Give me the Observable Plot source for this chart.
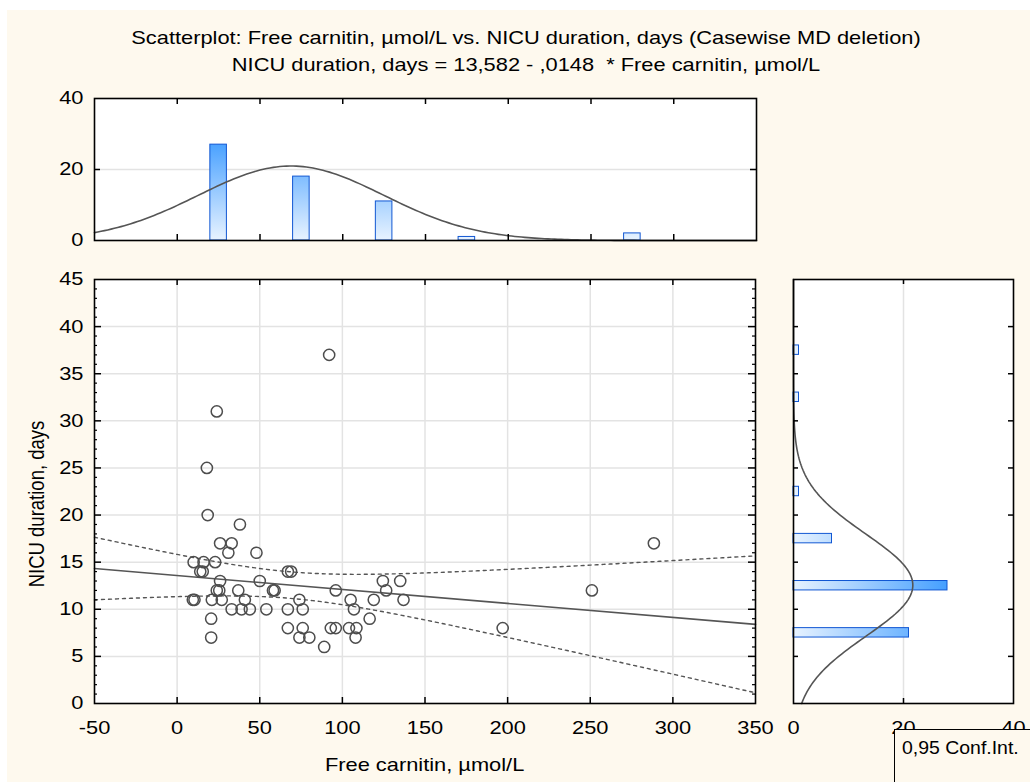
<!DOCTYPE html>
<html>
<head>
<meta charset="utf-8">
<script src="https://cdn.jsdelivr.net/npm/d3@7"></script>
<script src="https://cdn.jsdelivr.net/npm/@observablehq/plot@0.6"></script>
<style>
  html, body { margin: 0; padding: 0; background: #ffffff; }
  #root { position: absolute; left: 0; top: 0; width: 1030px; height: 782px; overflow: hidden;
          font-family: "Liberation Sans", Arial, sans-serif; color: #000; }
  #cream { position: absolute; left: 7px; top: 10px; right: 0; bottom: 0; background: #fef9ee; }
  .abs { position: absolute; }
  .title { position: absolute; left: 0; width: 1052px; text-align: center; font-size: 18.5px; white-space: pre;
           transform: scaleX(1.18); transform-origin: 526px 50%; }
  #legend { position: absolute; left: 894px; top: 729px; width: 200px; height: 100px;
            border: 1.5px solid #000; background: #fef9ee; font-size: 18px; box-sizing: border-box;
            padding: 8px 0 0 7px; white-space: pre; }
  #legend span { display: inline-block; transform: scaleX(1.08); transform-origin: 0 50%; }
</style>
</head>
<body>
<div id="root">
  <div id="cream"></div>
  <div class="title" style="top:27px">Scatterplot: Free carnitin, µmol/L vs. NICU duration, days (Casewise MD deletion)</div>
  <div class="title" style="top:54px">NICU duration, days = 13,582 - ,0148  * Free carnitin, µmol/L</div>
  <div id="topHist" class="abs" style="left:0;top:80px"></div>
  <div id="scatter" class="abs" style="left:0;top:260px"></div>
  <div id="rightHist" class="abs" style="left:770px;top:260px"></div>
  <div class="abs" style="left:94px;width:661px;top:754px;text-align:center;font-size:18.5px;transform:scaleX(1.18);transform-origin:330px 50%">Free carnitin, µmol/L</div>
  <div class="abs" style="left:37px;top:504px;width:0;height:0">
    <div style="position:absolute;transform:translate(-50%,-50%) rotate(-90deg) scaleY(1.18);white-space:nowrap;font-size:18.5px">NICU duration, days</div>
  </div>
  <div id="legend"><span>0,95 Conf.Int.</span></div>
</div>
<script>
// ---- data ----
const carnitin = [92, 24, 18, 18.5, 38, 26, 33, 31, 48, 10, 16, 23, 14, 15.5, 67, 69, 26, 50, 124.5, 135,
  24, 25.5, 37, 58, 59, 96, 126.5, 251, 9.5, 10.5, 21, 27, 41, 74, 105, 119, 137, 33, 39, 44,
  54, 67, 76, 107, 20.6, 116.5, 67, 76, 93, 96, 104, 108.5, 197, 20.6, 74, 80, 108, 89, 288.5];
const nicuDays = [37, 31, 25, 20, 19, 17, 17, 16, 16, 15, 15, 15, 14, 14, 14, 14, 13, 13, 13, 13,
  12, 12, 12, 12, 12, 12, 12, 12, 11, 11, 11, 11, 11, 11, 11, 11, 11, 10, 10, 10,
  10, 10, 10, 10, 9, 9, 8, 8, 8, 8, 8, 8, 8, 7, 7, 7, 7, 6, 17];

const carnitinBinCenters = [25, 75, 125, 175, 275];
const carnitinBinCounts = [27, 18, 11, 1, 2];
const carnitinBinWidth = 50;
const daysBinCenters = [7.5, 12.5, 17.5, 22.5, 32.5, 37.5];
const daysBinCounts = [21, 28, 7, 1, 1, 1];
const daysBinWidth = 5;

const regIntercept = 13.582;
const regSlope = -0.0148;
const confLevelT = 2.0025; // t(0.975, n-2) for the 0.95 band

const xTicks = [-50, 0, 50, 100, 150, 200, 250, 300, 350];
const xGrid = [0, 50, 100, 150, 200, 250, 300];
const yTicks = [0, 5, 10, 15, 20, 25, 30, 35, 40, 45];
const yGrid = [5, 10, 15, 20, 25, 30, 35, 40];
const yMinor = d3.range(1, 45).filter(v => v % 5 !== 0);
const topHistTicks = [0, 20, 40];
const rightHistTicks = [0, 20, 40];

// ---- derived tables ----
const points = carnitin.map((x, i) => ({x, y: nicuDays[i]}));
const n = points.length;
const xMean = d3.mean(carnitin), xSd = d3.deviation(carnitin);
const yMean = d3.mean(nicuDays), ySd = d3.deviation(nicuDays);
const sxx = d3.sum(carnitin, x => (x - xMean) ** 2);
const resid = Math.sqrt(d3.sum(points, p => (p.y - (regIntercept + regSlope * p.x)) ** 2) / (n - 2));
const xs = d3.range(-50, 350.01, 2);
const fitLine = [-50, 350].map(x => ({x, y: regIntercept + regSlope * x}));
const band = xs.map(x => {
  const h = confLevelT * resid * Math.sqrt(1 / n + (x - xMean) ** 2 / sxx);
  const yh = regIntercept + regSlope * x;
  return {x, lo: yh - h, hi: yh + h};
});
const normPdf = (v, m, s) => Math.exp(-0.5 * ((v - m) / s) ** 2) / (s * Math.sqrt(2 * Math.PI));
const topCurve = xs.map(x => ({x, y: n * carnitinBinWidth * normPdf(x, xMean, xSd)}));
const rightCurve = d3.range(0, 45.01, 0.25).map(y => ({y, x: n * daysBinWidth * normPdf(y, yMean, ySd)}));
const topBins = carnitinBinCenters.map((c, i) => ({c, n: carnitinBinCounts[i]}));
const rightBins = daysBinCenters.map((c, i) => ({c, n: daysBinCounts[i]}));

const font = {background: "transparent", fontFamily: "'Liberation Sans', Arial, sans-serif", fontSize: "18.5px", color: "#000", overflow: "visible"};
const fmt = d => String(d);
const curveStroke = "#555555";
const barStroke = "#1157d3";
const gridStroke = "#e3e3e3";
const textStretch = 1.18;

function addGradient(svg, id, x1, y1, x2, y2) {
  const ns = "http://www.w3.org/2000/svg";
  const defs = document.createElementNS(ns, "defs");
  const g = document.createElementNS(ns, "linearGradient");
  g.setAttribute("id", id);
  g.setAttribute("gradientUnits", "userSpaceOnUse");
  g.setAttribute("x1", x1); g.setAttribute("y1", y1);
  g.setAttribute("x2", x2); g.setAttribute("y2", y2);
  [["0", "#e8f3ff"], ["1", "#3f9cff"]].forEach(([o, c]) => {
    const s = document.createElementNS(ns, "stop");
    s.setAttribute("offset", o); s.setAttribute("stop-color", c);
    g.appendChild(s);
  });
  defs.appendChild(g);
  svg.insertBefore(defs, svg.firstChild);
}
// widen tick labels horizontally like the reference's text (only numeric x/y are moved into the transform)
const isNum = v => v != null && /^\s*-?[\d.]+(e-?\d+)?\s*$/.test(v);
function stretchText(svg) {
  svg.querySelectorAll("text").forEach(t => {
    const ax = t.getAttribute("x"), ay = t.getAttribute("y");
    let x = 0, y = 0;
    if (isNum(ax)) { x = +ax; t.removeAttribute("x"); }
    if (isNum(ay)) { y = +ay; t.removeAttribute("y"); }
    const tr = t.getAttribute("transform") || "";
    t.setAttribute("transform", `${tr} translate(${x},${y}) scale(${textStretch},1)`.trim());
  });
}

// ---- top histogram ----
{
  const W = 780, H = 180, mL = 94, mR = 24, mT = 18, mB = 20;
  const fh = H - mT - mB;
  const plot = Plot.plot({
    width: W, height: H, marginLeft: mL, marginRight: mR, marginTop: mT, marginBottom: mB,
    style: font,
    x: {domain: [-50, 350], axis: null},
    y: {domain: [0, 40], ticks: topHistTicks, tickSize: 0, tickPadding: 11, tickFormat: fmt, label: null},
    marks: [
      Plot.frame({fill: "white", stroke: "none"}),
      Plot.ruleY([20], {stroke: gridStroke, strokeWidth: 1.5}),
      Plot.rectY(topBins, {x1: d => d.c - 5, x2: d => d.c + 5, y: "n", fill: "url(#gradTop)", stroke: barStroke, strokeWidth: 1}),
      Plot.line(topCurve, {x: "x", y: "y", stroke: curveStroke, strokeWidth: 1.6}),
      Plot.tickX(xGrid, {x: d => d, insetBottom: fh - 6, stroke: "#000", strokeWidth: 1.5}),
      Plot.tickX(xGrid, {x: d => d, insetTop: fh - 6, stroke: "#000", strokeWidth: 1.5}),
      Plot.tickY([20], {y: d => d, insetRight: (W - mL - mR) - 6, stroke: "#000", strokeWidth: 1.5}),
      Plot.tickY([20], {y: d => d, insetLeft: (W - mL - mR) - 6, stroke: "#000", strokeWidth: 1.5}),
      Plot.frame({stroke: "#000", strokeWidth: 1.6})
    ]
  });
  const ys = d3.scaleLinear([0, 40], [H - mB, mT]);
  addGradient(plot, "gradTop", 0, ys(0), 0, ys(29));
  stretchText(plot);
  document.getElementById("topHist").appendChild(plot);
}

// ---- scatterplot ----
{
  const W = 780, H = 520, mL = 94, mR = 25, mT = 19, mB = 77;
  const fw = W - mL - mR, fh = H - mT - mB;
  const plot = Plot.plot({
    width: W, height: H, marginLeft: mL, marginRight: mR, marginTop: mT, marginBottom: mB,
    style: font,
    x: {domain: [-50, 350], ticks: xTicks, tickSize: 0, tickPadding: 17, tickFormat: fmt, label: null},
    y: {domain: [0, 45], ticks: yTicks, tickSize: 0, tickPadding: 11, tickFormat: fmt, label: null},
    marks: [
      Plot.frame({fill: "white", stroke: "none"}),
      Plot.ruleX(xGrid, {stroke: gridStroke, strokeWidth: 1.5}),
      Plot.ruleY(yGrid, {stroke: gridStroke, strokeWidth: 1.5}),
      Plot.line(band, {x: "x", y: "hi", stroke: curveStroke, strokeWidth: 1.4, strokeDasharray: "3,4"}),
      Plot.line(band, {x: "x", y: "lo", stroke: curveStroke, strokeWidth: 1.4, strokeDasharray: "3,4"}),
      Plot.line(fitLine, {x: "x", y: "y", stroke: curveStroke, strokeWidth: 1.6}),
      Plot.dot(points, {x: "x", y: "y", r: 5.6, stroke: "#4d4d4d", strokeWidth: 1.5, fill: "none"}),
      Plot.tickY(yGrid, {y: d => d, insetRight: fw - 7, stroke: "#000", strokeWidth: 1.5}),
      Plot.tickY(yGrid, {y: d => d, insetLeft: fw - 7, stroke: "#000", strokeWidth: 1.5}),
      Plot.tickY(yMinor, {y: d => d, insetRight: fw - 3, stroke: "#000", strokeWidth: 1.2}),
      Plot.tickY(yMinor, {y: d => d, insetLeft: fw - 3, stroke: "#000", strokeWidth: 1.2}),
      Plot.tickX(xGrid, {x: d => d, insetTop: fh - 6, stroke: "#000", strokeWidth: 1.5}),
      Plot.tickX(xGrid, {x: d => d, insetBottom: fh - 6, stroke: "#000", strokeWidth: 1.5}),
      Plot.frame({stroke: "#000", strokeWidth: 1.6})
    ]
  });
  stretchText(plot);
  document.getElementById("scatter").appendChild(plot);
}

// ---- right histogram ----
{
  const W = 260, H = 520, mL = 23, mR = 17, mT = 19, mB = 77;
  const fw = W - mL - mR, fh = H - mT - mB;
  const plot = Plot.plot({
    width: W, height: H, marginLeft: mL, marginRight: mR, marginTop: mT, marginBottom: mB,
    style: font,
    x: {domain: [0, 40], ticks: rightHistTicks, tickSize: 0, tickPadding: 17, tickFormat: fmt, label: null},
    y: {domain: [0, 45], axis: null},
    marks: [
      Plot.frame({fill: "white", stroke: "none"}),
      Plot.ruleX([20], {stroke: gridStroke, strokeWidth: 1.5}),
      Plot.rectX(rightBins, {y1: d => d.c - 0.5, y2: d => d.c + 0.5, x: "n", fill: "url(#gradRight)", stroke: barStroke, strokeWidth: 1}),
      Plot.line(rightCurve, {x: "x", y: "y", stroke: curveStroke, strokeWidth: 1.6}),
      Plot.tickY(yGrid, {y: d => d, insetRight: fw - 5, stroke: "#000", strokeWidth: 1.5}),
      Plot.tickY(yGrid, {y: d => d, insetLeft: fw - 5, stroke: "#000", strokeWidth: 1.5}),
      Plot.tickX([20], {x: d => d, insetBottom: fh - 5, stroke: "#000", strokeWidth: 1.5}),
      Plot.tickX([20], {x: d => d, insetTop: fh - 5, stroke: "#000", strokeWidth: 1.5}),
      Plot.frame({stroke: "#000", strokeWidth: 1.6})
    ]
  });
  const xsR = d3.scaleLinear([0, 40], [mL, W - mR]);
  addGradient(plot, "gradRight", xsR(0), 0, xsR(29), 0);
  stretchText(plot);
  document.getElementById("rightHist").appendChild(plot);
}
</script>
</body>
</html>
